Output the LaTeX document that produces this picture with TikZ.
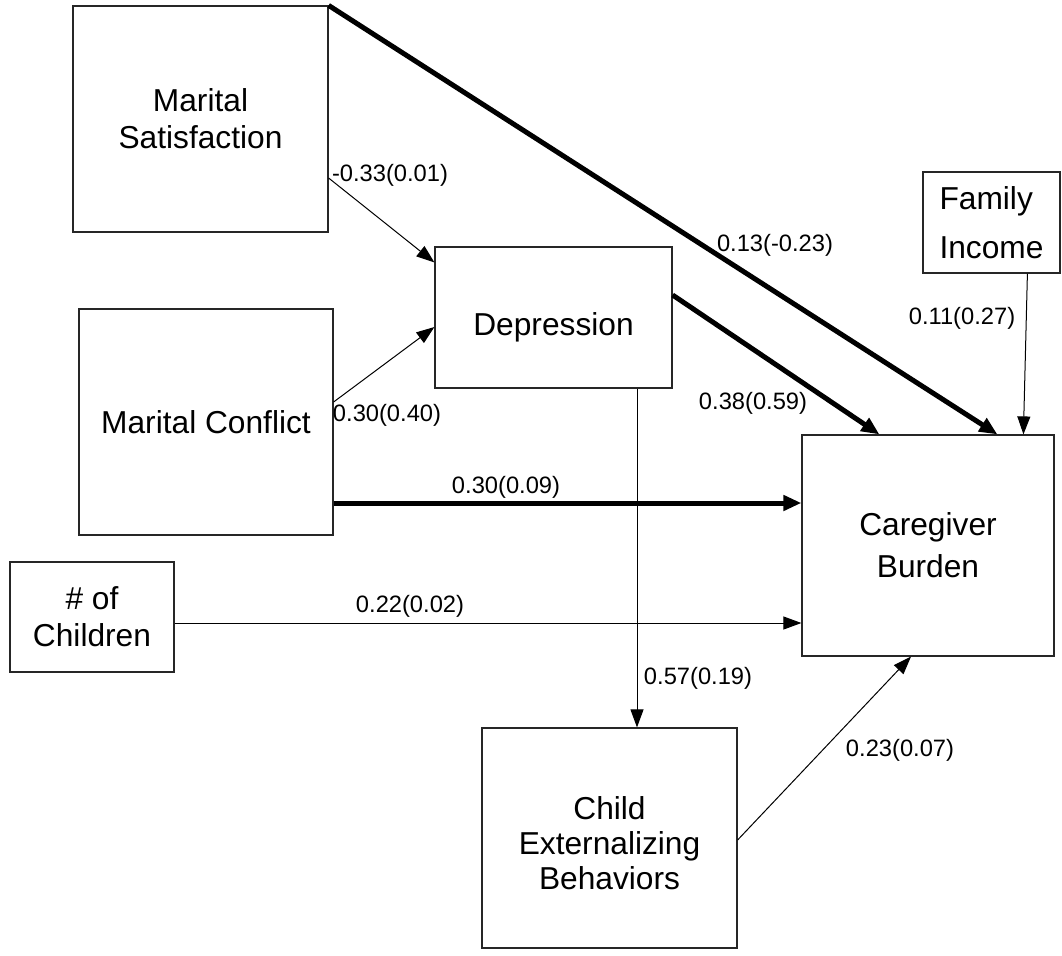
\documentclass[tikz,border=0pt]{standalone}
\usepackage{fontspec}
\setmainfont{Liberation Sans}
\usetikzlibrary{arrows.meta}
\begin{document}
\begin{tikzpicture}[x=1pt,y=-1pt,
  box/.style={draw=black!85, line width=1.2pt, inner sep=0pt, align=center,
    font=\fontsize{31.7}{37}\selectfont},
  boxtext/.style={inner sep=0pt, align=center, font=\fontsize{31.7}{35}\selectfont},
  lab/.style={inner sep=0pt, font=\fontsize{23.7}{28}\selectfont},
  link/.style={line width=1pt, -{Triangle[length=18pt,width=13pt]}},
  heavylink/.style={line width=5pt, -{Triangle[length=18pt,width=15pt]}}]
\useasboundingbox (0,0) rectangle (1062,955);

% boxes
\node[box, minimum width=255pt, minimum height=226pt] (ms) at (200.5,119) {Marital\\Satisfaction};
\node[box, minimum width=237pt, minimum height=141pt] (dep) at (553.5,317.5) {};
\node[boxtext, anchor=base] (deptext) at (553.5,335) {Depression};
\node[box, minimum width=254pt, minimum height=226pt] (mc) at (206,422) {Marital Conflict};
\node[box, minimum width=137pt, minimum height=101pt, align=left,
      font=\fontsize{31.7}{49}\selectfont] (fi) at (991.5,222.5) {Family\\Income};
\node[box, minimum width=252pt, minimum height=221pt,
      font=\fontsize{31.7}{42}\selectfont] (cb) at (928,545.5) {Caregiver\\Burden};
\node[box, minimum width=164pt, minimum height=110pt] (noc) at (92,617) {\# of\\Children};
\node[box, minimum width=255pt, minimum height=220pt] (ceb) at (609.5,838) {};
\node[boxtext] (cebtext) at (609.5,843) {Child\\Externalizing\\Behaviors};

% connectors
\draw[heavylink] (ms.north east) -- ([xshift=196pt]cb.north west);
\draw[link] ([yshift=-59pt]ms.east) -- ([yshift=-16pt]dep.north west);
\draw[link] ([yshift=20pt]mc.east) -- ([yshift=-9.5pt]dep.west);
\coordinate (mcout) at ([yshift=-81pt]mc.east);
\draw[heavylink] (mcout) -- (mcout -| cb.west);
\coordinate (nocout) at ([yshift=-6pt]noc.east);
\draw[link] (nocout) -- (nocout -| cb.west);
\draw[heavylink] ([yshift=22.5pt]dep.east) -- ([xshift=78pt]cb.north west);
\draw[link] ([xshift=105pt]fi.south west) -- ([xshift=222pt]cb.north west);
\coordinate (depout) at ([xshift=83.5pt]dep.south);
\draw[link] (depout) -- (depout |- ceb.north);
\draw[link] ([yshift=-2pt]ceb.east) -- ([xshift=-17pt]cb.south);

% labels
\node[lab] (l1) at (390,175) {-0.33(0.01)};
\node[lab] (l2) at (387,415) {0.30(0.40)};
\node[lab] (l3) at (775,245) {0.13(-0.23)};
\node[lab] (l4) at (753,403) {0.38(0.59)};
\node[lab] (l5) at (962,318) {0.11(0.27)};
\node[lab] (l6) at (506,487) {0.30(0.09)};
\node[lab] (l7) at (410,606) {0.22(0.02)};
\node[lab] (l8) at (698,678) {0.57(0.19)};
\node[lab] (l9) at (900,750) {0.23(0.07)};
\end{tikzpicture}
\end{document}
